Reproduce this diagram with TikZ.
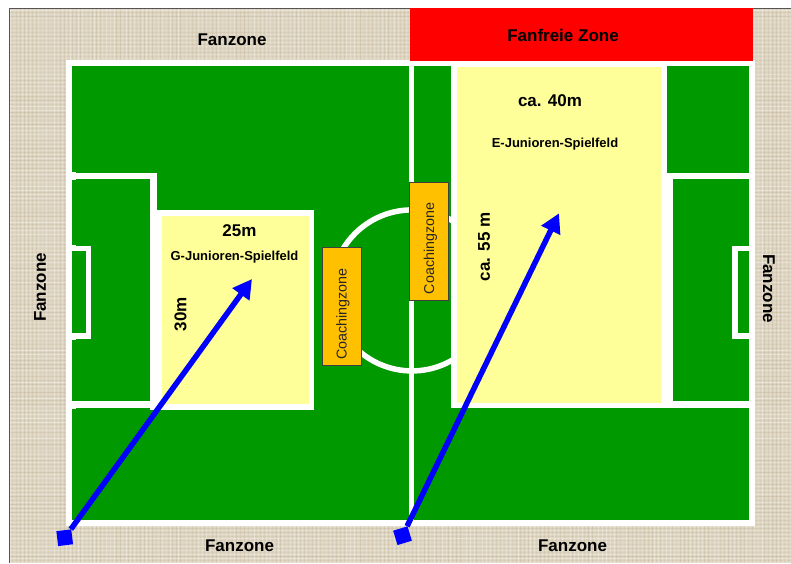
\documentclass[tikz,border=0pt]{standalone}
\usepackage{fontspec}
\setmainfont{Liberation Sans}
\usetikzlibrary{arrows.meta}
\definecolor{paper}{HTML}{DED5C1}
\definecolor{paperdark}{HTML}{C6B89C}
\definecolor{pitch}{HTML}{009900}
\definecolor{juniorfield}{HTML}{FFFF99}
\definecolor{coach}{HTML}{FFC000}
\definecolor{frameline}{HTML}{555555}
\tikzset{
  x=1pt,y=-1pt,
  whitefill/.style={fill=white,draw=none},
  greenfill/.style={fill=pitch,draw=none},
  yellowfill/.style={fill=juniorfield,draw=none},
  zonelabel/.style={font=\fontsize{17}{17}\selectfont\bfseries,inner sep=0pt},
  dimlabel/.style={font=\fontsize{17}{17}\selectfont\bfseries,inner sep=0pt},
  fieldlabel/.style={font=\fontsize{13}{13}\selectfont\bfseries,inner sep=0pt},
  coachbox/.style={draw=black!75,fill=coach,line width=1pt,inner sep=0pt,minimum width=39pt,minimum height=118pt},
  coachlabel/.style={font=\fontsize{14.3}{14.3}\selectfont,inner sep=0pt,rotate=90,text=black!85},
  startmark/.style={fill=blue,draw=none,inner sep=0pt,minimum size=15pt},
  bluearrow/.style={draw=blue,line width=5.5pt,-{Triangle[length=19pt,width=20pt]}},
}
\begin{document}
\begin{tikzpicture}
\useasboundingbox (0,0) rectangle (791,563);
% paper background with woven texture
\fill[white] (0,0) rectangle (791,563);
\fill[paper] (9,8) rectangle (791,563);
\pgfmathsetseed{7}
\begin{scope}
\clip (9,8) rectangle (791,563);
\foreach \i in {0,...,195}{
  \pgfmathsetmacro{\opa}{0.05+0.3*rnd}
  \pgfmathsetmacro{\opb}{0.05+0.45*rnd}
  \draw[white,opacity=\opa,line width=.8pt] ({10+4*\i},8) -- ({10+4*\i},563);
  \draw[paperdark,opacity=\opb,line width=.8pt] ({12+4*\i},8) -- ({12+4*\i},563);
}
\foreach \i in {0,...,139}{
  \pgfmathsetmacro{\opa}{0.05+0.3*rnd}
  \pgfmathsetmacro{\opb}{0.05+0.45*rnd}
  \draw[white,opacity=\opa,line width=.8pt] (9,{10+4*\i}) -- (791,{10+4*\i});
  \draw[paperdark,opacity=\opb,line width=.8pt] (9,{12+4*\i}) -- (791,{12+4*\i});
}
\end{scope}
\draw[frameline,line width=1pt] (9,563) -- (9,8) -- (791,8);
% pitch
\fill[whitefill] (66,59.5) rectangle (754.5,526);
\fill[greenfill] (72,65.7) rectangle (749,519.5);
% centre circle
\draw[white,line width=5.5pt] (412,290.4) circle[radius=80.5];
% centre line
\fill[whitefill] (409.3,60) rectangle (414,526);
% left penalty area
\fill[whitefill] (72,173) rectangle (156.7,179.3);
\fill[whitefill] (149.7,173) rectangle (156.7,407.7);
\fill[whitefill] (72,401.3) rectangle (156.7,407.7);
\fill[whitefill] (72,172.3) rectangle (76,180.3);
\fill[whitefill] (72,400.5) rectangle (76,408.5);
% left goal area
\fill[whitefill] (72,245.7) rectangle (91,339);
\fill[greenfill] (72,250.7) rectangle (85.7,333.3);
\fill[whitefill] (72,245) rectangle (76,251);
\fill[whitefill] (72,333) rectangle (76,339.5);
% right penalty area
\fill[whitefill] (666.7,173) rectangle (749,179.3);
\fill[whitefill] (666.7,173) rectangle (673.3,407.7);
\fill[whitefill] (666.7,401.3) rectangle (749,407.7);
% right goal area
\fill[whitefill] (732.3,245.7) rectangle (749,339);
\fill[greenfill] (738,250.7) rectangle (749,333.3);
% junior fields
\fill[whitefill] (150,210.3) rectangle (314.3,410);
\fill[yellowfill] (162,216) rectangle (308.7,404);
\fill[whitefill] (451.3,60) rectangle (666.7,408);
\fill[yellowfill] (457.3,67) rectangle (661,402.7);
% fan-free zone
\node[fill=red,inner sep=0pt,minimum width=343pt,minimum height=53pt] (free) at (581.5,34.5) {};
\node[zonelabel] (freelabel) at (563,35) {Fanfreie Zone};
% coaching zones
\node[coachbox] (coachA) at (341.7,306.8) {};
\node[coachlabel] (coachAlabel) at (343,314) {Coachingzone};
\node[coachbox] (coachB) at (429.2,241.7) {};
\node[coachlabel] (coachBlabel) at (430.5,248.5) {Coachingzone};
% labels
\node[zonelabel] (fanTop) at (232,40) {Fanzone};
\node[zonelabel] (fanBottomA) at (239.5,546) {Fanzone};
\node[zonelabel] (fanBottomB) at (572.5,546) {Fanzone};
\node[zonelabel,rotate=90] (fanLeft) at (40,287.5) {Fanzone};
\node[zonelabel,rotate=-90] (fanRight) at (769,288.5) {Fanzone};
\node[dimlabel] (gWidth) at (239.5,230.5) {25m};
\node[fieldlabel] (gName) at (234.5,257) {G-Junioren-Spielfeld};
\node[dimlabel,rotate=90] (gHeight) at (180.5,314) {30m};
\node[dimlabel] (eWidth) at (550,100.5) {ca. 40m};
\node[fieldlabel] (eName) at (555,144.5) {E-Junioren-Spielfeld};
\node[dimlabel,rotate=90] (eHeight) at (484,247) {ca. 55 m};
% blue arrows
\node[startmark,rotate=7] (startA) at (64.7,537.7) {};
\coordinate (tipA) at (252,279);
\draw[bluearrow] (startA) -- (tipA);
\node[startmark,rotate=17] (startB) at (402.5,535.7) {};
\coordinate (tipB) at (559,213.3);
\draw[bluearrow] (startB) -- (tipB);
\end{tikzpicture}
\end{document}
